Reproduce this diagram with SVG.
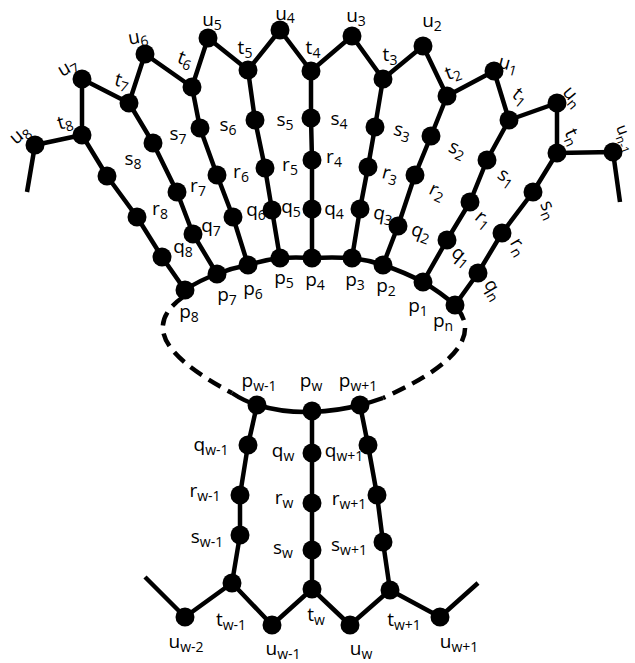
<svg xmlns="http://www.w3.org/2000/svg" width="635" height="663" viewBox="0 0 635 663">
<style>
.e{stroke:#000;stroke-width:4.5;fill:none;stroke-linejoin:round;stroke-linecap:butt}
.d{stroke:#000;stroke-width:4.5;fill:none;stroke-dasharray:14 8}
circle{fill:#000}
text{font-family:"Open Sans","Noto Sans",sans-serif;font-size:19px;fill:#000;text-anchor:middle}
.s{font-size:14px}
</style>
<rect width="635" height="663" fill="#fff"/>
<g id="connectors">
<polyline class="e" points="27,192 35,145 82,135 82,79 129,103 145,54 192,87 208,38 248,70 280,30 311,71 352,36 383,79 423,46 447,96 494,71 509,120 557,103 557,153 613,152 620,202"/>
<polyline class="e" points="82,135 107,176 137,217 162,257 185,290"/>
<polyline class="e" points="129,103 153,143 177,192 193,234 217,274"/>
<polyline class="e" points="192,87 200,128 217,175 233,217 248,265"/>
<polyline class="e" points="248,70 255,120 265,168 272,210 280,258"/>
<polyline class="e" points="311,71 311,118 312,160 312,209 312,258"/>
<polyline class="e" points="383,79 375,127 368,167 360,209 352,258"/>
<polyline class="e" points="447,96 431,136 415,175 398,226 383,265"/>
<polyline class="e" points="509,120 487,160 470,202 447,240 423,282"/>
<polyline class="e" points="557,153 533,192 502,233 478,273 455,305"/>
<path class="e" d="M185,290 Q200,280 217,274 Q232,268 248,265 Q264,260 280,258 Q296,257 312,258 Q332,257 352,258 Q368,260 383,265 Q404,272 423,282 Q440,292 455,305"/>
<path class="d" d="M183,297 C148,322 155,352 232,393"/>
<path class="d" d="M457,308 C475,330 468,360 383,398"/>
<path class="e" d="M232,393 Q244,401 257,405 Q284,413 312,412 Q338,411 360,405 Q372,402 383,398"/>
<polyline class="e" points="257,405 248,445 240,495 240,535 232,583"/>
<polyline class="e" points="312,412 312,453 312,503 312,550 312,589"/>
<polyline class="e" points="360,405 368,445 377,495 383,542 390,590"/>
<polyline class="e" points="145,577 185,617 232,583 272,625 312,589 350,625 390,590 440,617 478,583"/>
</g>
<g id="u8"><circle cx="35" cy="145" r="9.5"/><text transform="rotate(-40 20 135)" x="20" y="140">u<tspan class="s" dy="4">8</tspan></text></g>
<g id="t8"><circle cx="82" cy="135" r="9.5"/><text transform="rotate(-15 65 123)" x="65" y="128">t<tspan class="s" dy="4">8</tspan></text></g>
<g id="u7"><circle cx="82" cy="79" r="9.5"/><text transform="rotate(-30 68 68)" x="68" y="73">u<tspan class="s" dy="4">7</tspan></text></g>
<g id="t7"><circle cx="129" cy="103" r="9.5"/><text transform="rotate(15 122 82)" x="122" y="87">t<tspan class="s" dy="4">7</tspan></text></g>
<g id="u6"><circle cx="145" cy="54" r="9.5"/><text transform="rotate(-10 138 38)" x="138" y="43">u<tspan class="s" dy="4">6</tspan></text></g>
<g id="t6"><circle cx="192" cy="87" r="9.5"/><text transform="rotate(20 185 60)" x="185" y="65">t<tspan class="s" dy="4">6</tspan></text></g>
<g id="u5"><circle cx="208" cy="38" r="9.5"/><text x="212" y="26">u<tspan class="s" dy="4">5</tspan></text></g>
<g id="t5"><circle cx="248" cy="70" r="9.5"/><text x="245" y="54">t<tspan class="s" dy="4">5</tspan></text></g>
<g id="u4"><circle cx="280" cy="30" r="9.5"/><text x="285" y="20">u<tspan class="s" dy="3">4</tspan></text></g>
<g id="t4"><circle cx="311" cy="71" r="9.5"/><text x="313" y="54">t<tspan class="s" dy="4">4</tspan></text></g>
<g id="u3"><circle cx="352" cy="36" r="9.5"/><text x="356" y="22">u<tspan class="s" dy="4">3</tspan></text></g>
<g id="t3"><circle cx="383" cy="79" r="9.5"/><text x="390" y="61">t<tspan class="s" dy="4">3</tspan></text></g>
<g id="u2"><circle cx="423" cy="46" r="9.5"/><text x="432" y="27">u<tspan class="s" dy="4">2</tspan></text></g>
<g id="t2"><circle cx="447" cy="96" r="9.5"/><text transform="rotate(-20 453 73)" x="453" y="78">t<tspan class="s" dy="4">2</tspan></text></g>
<g id="u1"><circle cx="494" cy="71" r="9.5"/><text transform="rotate(15 508 65)" x="508" y="70">u<tspan class="s" dy="4">1</tspan></text></g>
<g id="t1"><circle cx="509" cy="120" r="9.5"/><text transform="rotate(40 520 97)" x="520" y="102">t<tspan class="s" dy="4">1</tspan></text></g>
<g id="un"><circle cx="557" cy="103" r="9.5"/><text transform="rotate(50 572 97)" x="572" y="102">u<tspan class="s" dy="4">n</tspan></text></g>
<g id="tn"><circle cx="557" cy="153" r="9.5"/><text transform="rotate(65 572 137)" x="572" y="142">t<tspan class="s" dy="4">n</tspan></text></g>
<g id="un-1"><circle cx="613" cy="152" r="9.5"/><text transform="rotate(70 616 127)" x="616" y="127" style="text-anchor:start;font-size:16px">u<tspan style="font-size:12px" dy="4">n-1</tspan></text></g>
<g id="s8"><circle cx="107" cy="176" r="9.5"/><text x="133" y="165">s<tspan class="s" dy="4">8</tspan></text></g>
<g id="r8"><circle cx="137" cy="217" r="9.5"/><text x="160" y="215">r<tspan class="s" dy="4">8</tspan></text></g>
<g id="q8"><circle cx="162" cy="257" r="9.5"/><text x="183" y="253">q<tspan class="s" dy="4">8</tspan></text></g>
<g id="p8"><circle cx="185" cy="290" r="9.5"/><text x="189" y="318">p<tspan class="s" dy="4">8</tspan></text></g>
<g id="s7"><circle cx="153" cy="143" r="9.5"/><text x="178" y="140">s<tspan class="s" dy="4">7</tspan></text></g>
<g id="r7"><circle cx="177" cy="192" r="9.5"/><text x="198" y="192">r<tspan class="s" dy="4">7</tspan></text></g>
<g id="q7"><circle cx="193" cy="234" r="9.5"/><text x="211" y="232">q<tspan class="s" dy="4">7</tspan></text></g>
<g id="p7"><circle cx="217" cy="274" r="9.5"/><text x="227" y="301">p<tspan class="s" dy="4">7</tspan></text></g>
<g id="s6"><circle cx="200" cy="128" r="9.5"/><text x="228" y="131">s<tspan class="s" dy="4">6</tspan></text></g>
<g id="r6"><circle cx="217" cy="175" r="9.5"/><text x="241" y="178">r<tspan class="s" dy="4">6</tspan></text></g>
<g id="q6"><circle cx="233" cy="217" r="9.5"/><text x="256" y="216">q<tspan class="s" dy="4">6</tspan></text></g>
<g id="p6"><circle cx="248" cy="265" r="9.5"/><text x="253" y="295">p<tspan class="s" dy="4">6</tspan></text></g>
<g id="s5"><circle cx="255" cy="120" r="9.5"/><text x="285" y="126">s<tspan class="s" dy="4">5</tspan></text></g>
<g id="r5"><circle cx="265" cy="168" r="9.5"/><text x="290" y="171">r<tspan class="s" dy="4">5</tspan></text></g>
<g id="q5"><circle cx="272" cy="210" r="9.5"/><text x="291" y="213">q<tspan class="s" dy="4">5</tspan></text></g>
<g id="p5"><circle cx="280" cy="258" r="9.5"/><text x="284" y="284">p<tspan class="s" dy="4">5</tspan></text></g>
<g id="s4"><circle cx="311" cy="118" r="9.5"/><text x="339" y="125">s<tspan class="s" dy="4">4</tspan></text></g>
<g id="r4"><circle cx="312" cy="160" r="9.5"/><text x="334" y="163">r<tspan class="s" dy="4">4</tspan></text></g>
<g id="q4"><circle cx="312" cy="209" r="9.5"/><text x="334" y="215">q<tspan class="s" dy="4">4</tspan></text></g>
<g id="p4"><circle cx="312" cy="258" r="9.5"/><text x="315" y="286">p<tspan class="s" dy="4">4</tspan></text></g>
<g id="s3"><circle cx="375" cy="127" r="9.5"/><text transform="rotate(15 402 132)" x="402" y="137">s<tspan class="s" dy="4">3</tspan></text></g>
<g id="r3"><circle cx="368" cy="167" r="9.5"/><text transform="rotate(15 390 175)" x="390" y="180">r<tspan class="s" dy="4">3</tspan></text></g>
<g id="q3"><circle cx="360" cy="209" r="9.5"/><text transform="rotate(10 383 215)" x="383" y="220">q<tspan class="s" dy="4">3</tspan></text></g>
<g id="p3"><circle cx="352" cy="258" r="9.5"/><text x="355" y="286">p<tspan class="s" dy="4">3</tspan></text></g>
<g id="s2"><circle cx="431" cy="136" r="9.5"/><text transform="rotate(25 457 150)" x="457" y="155">s<tspan class="s" dy="4">2</tspan></text></g>
<g id="r2"><circle cx="415" cy="175" r="9.5"/><text transform="rotate(25 437 192)" x="437" y="197">r<tspan class="s" dy="4">2</tspan></text></g>
<g id="q2"><circle cx="398" cy="226" r="9.5"/><text transform="rotate(20 421 233)" x="421" y="238">q<tspan class="s" dy="4">2</tspan></text></g>
<g id="p2"><circle cx="383" cy="265" r="9.5"/><text x="386" y="292">p<tspan class="s" dy="4">2</tspan></text></g>
<g id="s1"><circle cx="487" cy="160" r="9.5"/><text transform="rotate(35 506 178)" x="506" y="183">s<tspan class="s" dy="4">1</tspan></text></g>
<g id="r1"><circle cx="470" cy="202" r="9.5"/><text transform="rotate(40 483 220)" x="483" y="225">r<tspan class="s" dy="4">1</tspan></text></g>
<g id="q1"><circle cx="447" cy="240" r="9.5"/><text transform="rotate(40 461 257)" x="461" y="262">q<tspan class="s" dy="4">1</tspan></text></g>
<g id="p1"><circle cx="423" cy="282" r="9.5"/><text x="418" y="312">p<tspan class="s" dy="4">1</tspan></text></g>
<g id="sn"><circle cx="533" cy="192" r="9.5"/><text transform="rotate(65 548 210)" x="548" y="215">s<tspan class="s" dy="4">n</tspan></text></g>
<g id="rn"><circle cx="502" cy="233" r="9.5"/><text transform="rotate(60 518 247)" x="518" y="252">r<tspan class="s" dy="4">n</tspan></text></g>
<g id="qn"><circle cx="478" cy="273" r="9.5"/><text transform="rotate(60 493 290)" x="493" y="295">q<tspan class="s" dy="4">n</tspan></text></g>
<g id="pn"><circle cx="455" cy="305" r="9.5"/><text x="443" y="327">p<tspan class="s" dy="4">n</tspan></text></g>
<g id="pw-1"><circle cx="257" cy="405" r="9.5"/><text x="259" y="387">p<tspan class="s" dy="4">w-1</tspan></text></g>
<g id="pw"><circle cx="312" cy="411" r="9.5"/><text x="311" y="387">p<tspan class="s" dy="4">w</tspan></text></g>
<g id="pw+1"><circle cx="360" cy="405" r="9.5"/><text x="358" y="387">p<tspan class="s" dy="4">w+1</tspan></text></g>
<g id="qw-1"><circle cx="248" cy="445" r="9.5"/><text x="211" y="451">q<tspan class="s" dy="4">w-1</tspan></text></g>
<g id="qw"><circle cx="312" cy="453" r="9.5"/><text x="283" y="457">q<tspan class="s" dy="4">w</tspan></text></g>
<g id="qw+1"><circle cx="368" cy="445" r="9.5"/><text x="344" y="457">q<tspan class="s" dy="4">w+1</tspan></text></g>
<g id="rw-1"><circle cx="240" cy="495" r="9.5"/><text x="205" y="497">r<tspan class="s" dy="4">w-1</tspan></text></g>
<g id="rw"><circle cx="312" cy="503" r="9.5"/><text x="284" y="504">r<tspan class="s" dy="4">w</tspan></text></g>
<g id="rw+1"><circle cx="377" cy="495" r="9.5"/><text x="349" y="505">r<tspan class="s" dy="4">w+1</tspan></text></g>
<g id="sw-1"><circle cx="240" cy="535" r="9.5"/><text x="207" y="543">s<tspan class="s" dy="4">w-1</tspan></text></g>
<g id="sw"><circle cx="312" cy="550" r="9.5"/><text x="283" y="554">s<tspan class="s" dy="4">w</tspan></text></g>
<g id="sw+1"><circle cx="383" cy="542" r="9.5"/><text x="349" y="551">s<tspan class="s" dy="4">w+1</tspan></text></g>
<g id="tw-1"><circle cx="232" cy="583" r="9.5"/><text x="231" y="626">t<tspan class="s" dy="4">w-1</tspan></text></g>
<g id="tw"><circle cx="312" cy="589" r="9.5"/><text x="316" y="621">t<tspan class="s" dy="4">w</tspan></text></g>
<g id="tw+1"><circle cx="390" cy="590" r="9.5"/><text x="404" y="626">t<tspan class="s" dy="4">w+1</tspan></text></g>
<g id="uw-2"><circle cx="185" cy="617" r="9.5"/><text x="186" y="648">u<tspan class="s" dy="4">w-2</tspan></text></g>
<g id="uw-1"><circle cx="272" cy="625" r="9.5"/><text x="283" y="655">u<tspan class="s" dy="4">w-1</tspan></text></g>
<g id="uw"><circle cx="350" cy="625" r="9.5"/><text x="361" y="655">u<tspan class="s" dy="4">w</tspan></text></g>
<g id="uw+1"><circle cx="440" cy="617" r="9.5"/><text x="459" y="648">u<tspan class="s" dy="4">w+1</tspan></text></g>
</svg>
